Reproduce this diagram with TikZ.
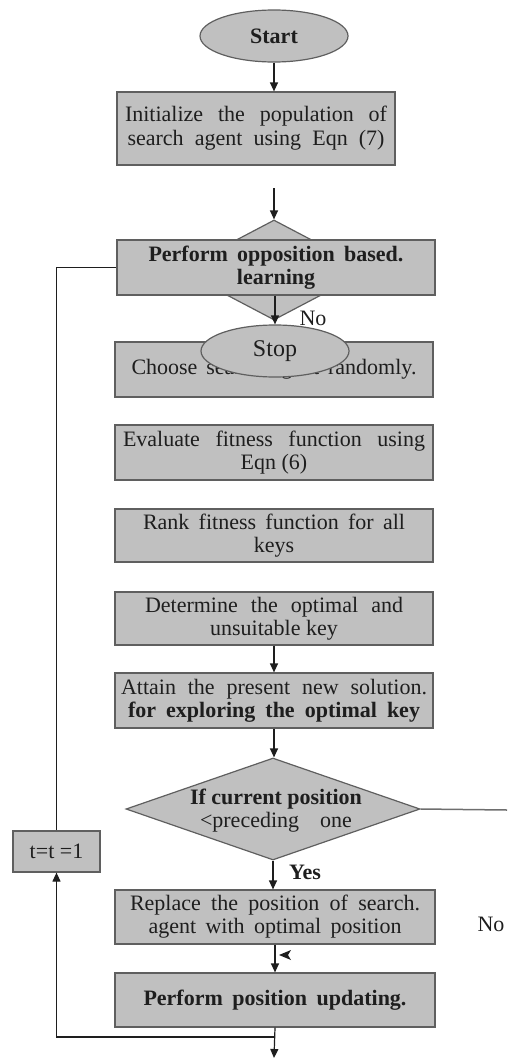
\documentclass[tikz,border=0pt]{standalone}
\usepackage{fontspec}
\setmainfont{Liberation Serif}
\usetikzlibrary{shapes.geometric,arrows.meta}
\definecolor{boxfill}{RGB}{192,192,192}
\definecolor{boxline}{RGB}{95,95,95}
\definecolor{ink}{RGB}{30,30,30}
\definecolor{sideline}{RGB}{110,110,110}
% one line of text spread to a given width (in pt)
\newcommand{\sline}[2]{\makebox[#1pt][s]{#2}}

\begin{document}
\begin{tikzpicture}[x=1pt,y=-1pt,
  txt/.style={text=ink, font=\fontsize{22}{24}\selectfont},
  proc/.style={txt, draw=boxline, fill=boxfill, line width=1.2pt, rectangle,
               inner sep=0pt, align=center},
  term/.style={txt, draw=boxline, fill=boxfill, line width=1.2pt, ellipse,
               inner sep=0pt, minimum width=148pt, minimum height=52pt},
  decide/.style={draw=boxline, fill=boxfill, line width=1.2pt, diamond,
               inner sep=0pt},
  flow/.style={draw=ink, line width=1.2pt, -{Triangle[length=9pt,width=8pt]}},
  link/.style={draw=ink, line width=1.2pt},
  lbl/.style={txt, inner sep=0pt}]

\useasboundingbox (0,0) rectangle (507,1063);

% terminals and process boxes
\node[term, font=\bfseries\fontsize{22}{24}\selectfont] (start) at (274,36) {Start};

\node[proc, minimum width=278pt, minimum height=73pt] (init) at (256,128.5)
  {\sline{262}{Initialize the population of}\\ \sline{257}{search agent using Eqn (7)}};

\node[decide, minimum width=190pt, minimum height=100pt] (gate) at (274,270) {};

\node[proc, minimum width=318pt, minimum height=55pt, font=\bfseries\fontsize{22}{23}\selectfont] (obl) at (276,267.5)
  {\sline{255}{Perform opposition based.}\\ learning};

\node[proc, minimum width=318pt, minimum height=55pt] (choose) at (274,369.5)
  {\sline{285}{Choose search agent randomly.}};

\node[term, font=\fontsize{24}{26}\selectfont] (stop) at (275,351) {Stop};

\node[proc, minimum width=318pt, minimum height=55pt, font=\fontsize{22}{23}\selectfont] (eval) at (274,452.5)
  {\sline{302}{Evaluate fitness function using}\\ Eqn (6)};

\node[proc, minimum width=318pt, minimum height=53pt, font=\fontsize{22}{23}\selectfont] (rank) at (274,535.5)
  {\sline{262}{Rank fitness function for all}\\ keys};

\node[proc, minimum width=318pt, minimum height=53pt, font=\fontsize{22}{23}\selectfont] (determ) at (274,618.5)
  {\sline{258}{Determine the optimal and}\\ unsuitable key};

\node[proc, minimum width=318pt, minimum height=55pt, font=\fontsize{22}{23}\selectfont] (attain) at (274,700.5)
  {\sline{306}{Attain the present new solution.}\\ \textbf{\sline{292}{for exploring the optimal key}}};

% decision: the diamond outline and its text are separate nodes
\node[decide, minimum width=294pt, minimum height=102pt] (dec) at (273,809) {};
\node[txt, align=center, inner sep=0pt, font=\fontsize{22}{23}\selectfont] (dectext) at (276,811)
  {\textbf{If current position}\\ \sline{152}{<preceding one}};

\node[proc, minimum width=320pt, minimum height=54pt, font=\fontsize{22}{23}\selectfont] (replace) at (275,917)
  {\sline{290}{Replace the position of search.}\\ \sline{253}{agent with optimal position}};

\node[proc, minimum width=320pt, minimum height=54pt, font=\bfseries\fontsize{22}{24}\selectfont] (update) at (275,1000)
  {\sline{263}{Perform position updating.}};

\node[proc, minimum width=87pt, minimum height=41pt] (tbox) at (56.5,851.5) {t=t =1};

% free ends of connectors
\coordinate (gapTop) at (274,188);
\coordinate (exit) at (274,1058);
\coordinate (join) at (274,1037);
\coordinate (decRight) at (507,810);

% connectors
\draw[flow] (start.south) -- (start.south |- init.north);
\draw[flow] (gapTop) -- (gate.north);
\draw[flow] (stop.north |- obl.south) -- (stop.north);
\draw[flow] (determ.south) -- (attain.north);
\draw[flow] (attain.south) -- (attain.south |- dec.north);
\draw[flow] (dec.south) -- (dec.south |- replace.north);
\draw[flow] (replace.south) -- (update.north);
\draw[flow] (update.south) -- (exit);
\draw[flow] (join) -| (tbox.south);
\draw[link] (tbox.north) |- (obl.west);
\draw[draw=sideline, line width=1.5pt] (dec.east) -- (decRight);

% small arrowhead beside the replace/update connector
\fill[ink] (279,955) -- (291,950) -- (288,955) -- (291,960) -- cycle;

% branch labels
\node[lbl] at (313,318) {No};
\node[lbl, font=\bfseries\fontsize{22}{24}\selectfont] at (305,872) {Yes};
\node[lbl] at (491,924) {No};
\end{tikzpicture}
\end{document}
